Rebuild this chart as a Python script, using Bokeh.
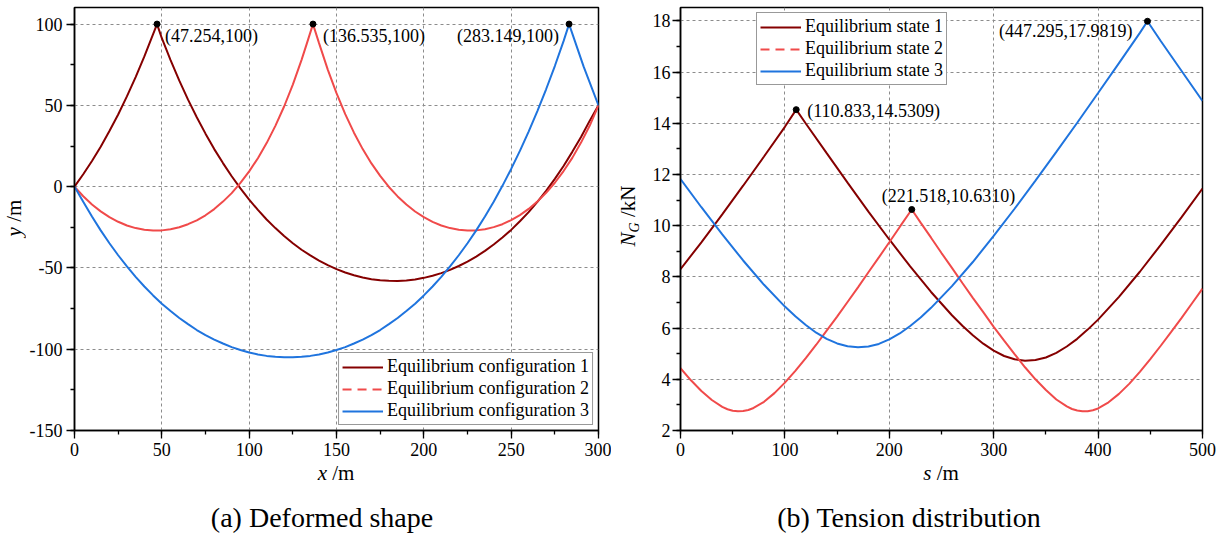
import math
from bokeh.plotting import figure
from bokeh.models import (Range1d, SingleIntervalTicker, Label, Legend, LegendItem, Div,
                          PrintfTickFormatter)
from bokeh.layouts import row, column
from bokeh.embed import file_html
from bokeh.resources import INLINE

# ---------------- data: (a) deformed shape ----------------
x_conf1 = [0, 5, 10, 15, 20, 25, 30, 35, 40, 47.254, 50, 55, 60, 65, 70, 75, 80, 85, 90, 95, 100, 105,
           110, 115, 120, 125, 130, 135, 140, 145, 150, 155, 160, 165, 170, 175, 180, 185, 190, 195,
           200, 205, 210, 215, 220, 225, 230, 235, 240, 245, 250, 255, 260, 265, 270, 275, 280, 285,
           290, 295, 300]
y_conf1 = [0, 7.6, 15.8, 24.6, 34.2, 44.4, 55.5, 67.4, 80.1, 100, 91.3, 77.8, 65.2, 53.5, 42.7, 32.6,
           23.1, 14.5, 6.4, -1.1, -8.0, -14.3, -20.2, -25.5, -30.4, -34.8, -38.8, -42.3, -45.5, -48.3,
           -50.7, -52.8, -54.5, -55.9, -56.9, -57.6, -57.9, -58.0, -57.7, -57.1, -56.1, -54.8, -53.2,
           -51.2, -48.8, -46.1, -43.0, -39.5, -35.6, -31.3, -26.6, -21.3, -15.7, -9.3, -2.6, 4.8, 12.7,
           21.4, 30.5, 40.6, 50]

x_conf2 = [0, 5, 10, 15, 20, 25, 30, 35, 40, 45, 50, 55, 60, 65, 70, 75, 80, 85, 90, 95, 100, 105,
           110, 115, 120, 125, 130, 133, 136.535, 140, 145, 150, 155, 160, 165, 170, 175, 180, 185,
           190, 195, 200, 205, 210, 215, 220, 225, 230, 235, 240, 245, 250, 255, 260, 265, 270, 275,
           280, 285, 290, 295, 300]
y_conf2 = [0, -5.9, -11.0, -15.2, -18.7, -21.6, -23.9, -25.5, -26.5, -27.0, -26.9, -26.2, -25.0, -23.1,
           -20.7, -17.6, -13.8, -9.2, -4.0, 2.3, 9.4, 17.5, 26.8, 37.4, 49.3, 62.8, 78.0, 88.0, 100,
           88.3, 72.0, 57.5, 44.6, 33.2, 23.1, 14.3, 6.6, -0.2, -6.0, -11.0, -15.3, -18.8, -21.7,
           -23.9, -25.5, -26.5, -27.0, -26.9, -26.2, -24.9, -23.1, -20.6, -17.5, -13.7, -9.2, -3.8,
           2.4, 9.6, 17.7, 27.1, 37.6, 50]

x_conf3 = [0, 5, 10, 15, 20, 25, 30, 35, 40, 45, 50, 55, 60, 65, 70, 75, 80, 85, 90, 95, 100, 105,
           110, 115, 120, 125, 130, 135, 140, 145, 150, 155, 160, 165, 170, 175, 180, 185, 190, 195,
           200, 205, 210, 215, 220, 225, 230, 235, 240, 245, 250, 255, 260, 265, 270, 275, 280,
           283.149, 291.5, 300]
y_conf3 = [0, -9.3, -18.4, -26.9, -34.8, -42.2, -49.1, -55.5, -61.4, -66.9, -72.0, -76.5, -80.8,
           -84.6, -88.2, -91.3, -94.1, -96.5, -98.7, -100.5, -102.0, -103.2, -104.1, -104.7, -105.0,
           -105.0, -104.7, -104.1, -103.2, -102.0, -100.5, -98.7, -96.5, -94.1, -91.3, -88.2, -84.6,
           -80.8, -76.5, -72.0, -66.9, -61.4, -55.5, -49.1, -42.2, -34.8, -26.9, -18.4, -9.3, 0.5,
           10.9, 22.0, 33.9, 46.5, 59.9, 74.2, 89.5, 100, 73.8, 50]

peak_x = [47.254, 136.535, 283.149]
peak_y = [100, 100, 100]
peak_text = ["(47.254,100)", "(136.535,100)", "(283.149,100)"]

# ---------------- data: (b) tension distribution ----------------
s_state1 = [0, 20, 40, 60, 80, 100, 110.833, 120, 140, 160, 180, 200, 220, 240, 260, 270, 280, 290,
            300, 310, 320, 330, 340, 350, 360, 370, 380, 390, 400, 420, 440, 460, 480, 500]
n_state1 = [8.30, 9.35, 10.44, 11.56, 12.70, 13.86, 14.5309, 13.99, 12.83, 11.68, 10.55, 9.46, 8.41,
            7.41, 6.50, 6.09, 5.72, 5.39, 5.12, 4.91, 4.78, 4.72, 4.75, 4.85, 5.03, 5.28, 5.58, 5.94,
            6.33, 7.22, 8.20, 9.25, 10.33, 11.45]

s_state2 = [0, 10, 20, 30, 40, 45, 50, 55, 60, 65, 70, 80, 90, 100, 110, 120, 130, 140, 150, 160,
            170, 180, 190, 200, 210, 221.518, 230, 240, 250, 260, 270, 280, 290, 300, 310, 320, 330,
            340, 350, 360, 370, 375, 380, 385, 390, 395, 400, 410, 420, 430, 440, 450, 460, 470, 480,
            490, 500]
n_state2 = [4.43, 3.96, 3.54, 3.19, 2.92, 2.83, 2.77, 2.75, 2.76, 2.80, 2.88, 3.12, 3.46, 3.87, 4.33,
            4.83, 5.35, 5.90, 6.45, 7.02, 7.59, 8.18, 8.76, 9.35, 9.95, 10.631, 10.12, 9.53, 8.93,
            8.35, 7.76, 7.18, 6.62, 6.05, 5.51, 4.98, 4.47, 4.00, 3.58, 3.21, 2.94, 2.84, 2.78, 2.75,
            2.75, 2.79, 2.86, 3.10, 3.43, 3.83, 4.29, 4.79, 5.31, 5.85, 6.40, 6.97, 7.54]

s_state3 = [0, 20, 40, 60, 80, 100, 110, 120, 130, 140, 150, 160, 170, 180, 190, 200, 210, 220, 230,
            240, 260, 280, 300, 320, 340, 360, 380, 400, 420, 440, 447.295, 460, 480, 500]
n_state3 = [11.82, 10.72, 9.66, 8.64, 7.69, 6.84, 6.46, 6.12, 5.82, 5.58, 5.40, 5.29, 5.25, 5.28,
            5.38, 5.56, 5.79, 6.08, 6.41, 6.79, 7.64, 8.58, 9.60, 10.66, 11.76, 12.88, 14.02, 15.18,
            16.35, 17.53, 17.9819, 17.21, 16.04, 14.87]

peak_s = [110.833, 221.518, 447.295]
peak_n = [14.5309, 10.6310, 17.9819]
peak_s_text = ["(110.833,14.5309)", "(221.518,10.6310)", "(447.295,17.9819)"]

labels_a = ["Equilibrium configuration 1", "Equilibrium configuration 2", "Equilibrium configuration 3"]
labels_b = ["Equilibrium state 1", "Equilibrium state 2", "Equilibrium state 3"]
captions = ["(a) Deformed shape", "(b) Tension distribution"]

# ---------------- styling ----------------
FONT = "Liberation Serif"
C1, C2, C3 = "#850000", "#f04a4a", "#1f74de"
LW = 2.0
FIG_H = 466
YA_W, YB_W = 25, 37


def style(p, xint, yint, ystand):
    xt = SingleIntervalTicker(interval=xint, num_minor_ticks=2)
    yt = SingleIntervalTicker(interval=yint, num_minor_ticks=2)
    p.xaxis[0].ticker = xt
    p.yaxis[0].ticker = yt
    p.xgrid[0].ticker = xt
    p.ygrid[0].ticker = yt
    for ax in (p.xaxis[0], p.yaxis[0]):
        ax.formatter = PrintfTickFormatter(format="%d")
        ax.axis_line_width = 1.5
        ax.axis_line_color = "black"
        ax.major_tick_out = 8
        ax.major_tick_in = 0
        ax.minor_tick_out = 4
        ax.minor_tick_in = 0
        ax.major_tick_line_width = 1.3
        ax.minor_tick_line_width = 1.3
        ax.major_tick_line_color = "black"
        ax.minor_tick_line_color = "black"
        ax.major_label_text_font = FONT
        ax.major_label_text_font_size = "18px"
        ax.major_label_text_color = "black"
    p.xaxis[0].major_label_standoff = 4
    p.yaxis[0].major_label_standoff = ystand
    for g in (p.xgrid[0], p.ygrid[0]):
        g.grid_line_dash = "3 3"
        g.grid_line_color = "#8c8c8c"
        g.grid_line_width = 1
    p.outline_line_color = "black"
    p.outline_line_width = 1.5
    p.outline_line_alpha = 1
    p.background_fill_color = "white"
    p.border_fill_color = "white"


def legend_for(p, items, location, margin):
    lg = Legend(items=items, location=location)
    lg.label_text_font = FONT
    lg.label_text_font_size = "18px"
    lg.label_text_color = "black"
    lg.glyph_width = 41
    lg.glyph_height = 20
    lg.label_height = 20
    lg.label_standoff = 4
    lg.padding = 3
    lg.spacing = 1
    lg.margin = margin
    lg.border_line_color = "#333333"
    lg.border_line_width = 1.5
    lg.background_fill_alpha = 1
    p.add_layout(lg)


def peak_labels(p, xs, ys, texts, offs):
    for (px, py, t, (dx, dy, al)) in zip(xs, ys, texts, offs):
        p.add_layout(Label(x=px, y=py, x_offset=dx, y_offset=dy, text=t, text_font=FONT,
                           text_font_size="18px", text_align=al, text_baseline="middle",
                           text_color="black"))


# ---------------- panel (a) ----------------
pa = figure(width=611 - YA_W, height=FIG_H, output_backend="svg", toolbar_location=None,
            x_range=Range1d(0, 300), y_range=Range1d(-150, 110.2))
pa.min_border_left = 74 - YA_W
pa.min_border_right = 13
pa.min_border_top = 7
pa.min_border_bottom = FIG_H - 430
style(pa, 50, 50, 4)

ra1 = pa.line(x_conf1, y_conf1, color=C1, line_width=LW)
ra2 = pa.line(x_conf2, y_conf2, color=C2, line_width=LW)
ra3 = pa.line(x_conf3, y_conf3, color=C3, line_width=LW)
la2 = pa.line([math.nan], [math.nan], color=C2, line_width=LW, line_dash="9 6")
pa.scatter(peak_x, peak_y, size=6, color="black")
peak_labels(pa, peak_x, peak_y, peak_text, [(8, -12, "left"), (10, -12, "left"), (-10, -12, "right")])
legend_for(pa, [LegendItem(label=labels_a[0], renderers=[ra1]),
                LegendItem(label=labels_a[1], renderers=[la2]),
                LegendItem(label=labels_a[2], renderers=[ra3])], "bottom_right", 5)

# ---------------- panel (b) ----------------
pb = figure(width=611 - YB_W, height=FIG_H, output_backend="svg", toolbar_location=None,
            x_range=Range1d(0, 500), y_range=Range1d(2, 18.52))
pb.min_border_left = 680 - 611 - YB_W
pb.min_border_right = 20
pb.min_border_top = 7
pb.min_border_bottom = FIG_H - 430
style(pb, 100, 2, 2)

rb1 = pb.line(s_state1, n_state1, color=C1, line_width=LW)
rb2 = pb.line(s_state2, n_state2, color=C2, line_width=LW)
rb3 = pb.line(s_state3, n_state3, color=C3, line_width=LW)
lb2 = pb.line([math.nan], [math.nan], color=C2, line_width=LW, line_dash="9 6")
pb.scatter(peak_s, peak_n, size=6, color="black")
peak_labels(pb, peak_s, peak_n, peak_s_text, [(11, -1, "left"), (-30, 14, "left"), (-15, -10, "right")])
legend_for(pb, [LegendItem(label=labels_b[0], renderers=[rb1]),
                LegendItem(label=labels_b[1], renderers=[lb2]),
                LegendItem(label=labels_b[2], renderers=[rb3])], (76, 345), 0)

# ---------------- text outside the frames (HTML) ----------------
TXT = "font-family:'Liberation Serif';color:#000;white-space:nowrap;line-height:1;position:absolute;"


def span_center(cx, cy, html, size, rotate=False):
    tr = "translate(-50%,-50%)" + (" rotate(-90deg)" if rotate else "")
    return (f"<div style=\"{TXT}left:{cx}px;top:{cy}px;font-size:{size}px;"
            f"transform:{tr};\">{html}</div>")


def box(w, h, inner):
    return f"<div style=\"position:relative;width:{w}px;height:{h}px;overflow:visible;\">{inner}</div>"


ylab_a = Div(text=box(YA_W, FIG_H, span_center(14, 218, "<i>y</i> /m", 21, rotate=True)),
             width=YA_W, height=FIG_H, margin=0, styles={"overflow": "visible"})
ylab_b = Div(text=box(YB_W, FIG_H, span_center(
    17, 216, "<i>N</i><span style=\"font-size:14px;position:relative;top:4px;\"><i>G</i></span> /kN",
    21, rotate=True)), width=YB_W, height=FIG_H, margin=0, styles={"overflow": "visible"})

bottom_inner = (span_center(336, 7, "<i>x</i> /m", 21) +
                span_center(941, 7, "<i>s</i> /m", 21) +
                span_center(322, 52, captions[0], 28) +
                span_center(909, 52, captions[1], 28))
bottom = Div(text=box(1222, 538 - FIG_H, bottom_inner), width=1222, height=538 - FIG_H, margin=0)

layout = column(row(ylab_a, pa, ylab_b, pb, spacing=0), bottom, spacing=0)
open("out.html", "w").write(file_html(layout, INLINE))
